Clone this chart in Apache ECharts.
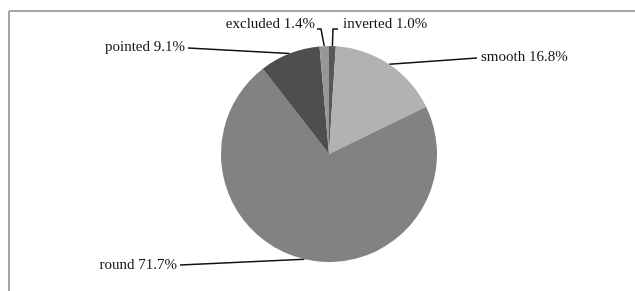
<!DOCTYPE html>
<html>
<head>
<meta charset="utf-8">
<script src="https://cdn.jsdelivr.net/npm/echarts@6/dist/echarts.min.js"></script>
<style>
  html, body { margin: 0; padding: 0; background: #fff; }
  #chart { width: 635px; height: 291px; }
</style>
</head>
<body>
<div id="chart"></div>
<script>
// shape categories, clockwise from 12 o'clock
const categories = ['inverted', 'smooth', 'round', 'pointed', 'excluded'];
const shares = [1.0, 16.8, 71.7, 9.1, 1.4];
const sliceColors = ['#585858', '#b2b2b2', '#828282', '#4e4e4e', '#979797'];

// where each label sits (text anchor) and the bend of its leader line
const labelSpots = {
  inverted: { x: 343, y: 24, align: 'left', bend: [[338, 29], [333, 29]] },
  smooth:   { x: 481, y: 57, align: 'left', bend: [[477, 58]] },
  round:    { x: 177, y: 265, align: 'right', bend: [[180, 265]] },
  pointed:  { x: 185, y: 47, align: 'right', bend: [[188, 48]] },
  excluded: { x: 315, y: 24, align: 'right', bend: [[317, 29], [321, 29]] }
};

const chart = echarts.init(document.getElementById('chart'));

const option = {
  animation: false,
  graphic: [
    { type: 'line', shape: { x1: 9, y1: 11, x2: 635, y2: 11 }, style: { stroke: '#a6a6a6', lineWidth: 2 } },
    { type: 'line', shape: { x1: 9, y1: 11, x2: 9, y2: 291 }, style: { stroke: '#a6a6a6', lineWidth: 2 } }
  ],
  series: [
    {
      type: 'pie',
      center: [329, 154],
      radius: 108,
      startAngle: 90,
      clockwise: true,
      avoidLabelOverlap: false,
      itemStyle: { borderWidth: 0 },
      emphasis: { disabled: true },
      label: {
        show: true,
        fontFamily: 'Liberation Serif',
        fontSize: 15,
        color: '#111',
        formatter: p => p.name + ' ' + p.value.toFixed(1) + '%'
      },
      labelLine: {
        show: true,
        length: 10,
        length2: 10,
        smooth: false,
        lineStyle: { color: '#111', width: 1.5 }
      },
      labelLayout: function (params) {
        const name = categories[params.dataIndex];
        const spot = labelSpots[name];
        const pts = params.labelLinePoints;
        const start = pts && pts[0] ? pts[0] : [329, 154];
        const line = [start].concat(spot.bend.slice().reverse());
        return {
          x: spot.x,
          y: spot.y,
          align: spot.align,
          verticalAlign: 'middle',
          labelLinePoints: line
        };
      },
      data: categories.map((c, i) => ({
        name: c,
        value: shares[i],
        itemStyle: { color: sliceColors[i] }
      }))
    }
  ]
};

chart.setOption(option);
</script>
</body>
</html>
